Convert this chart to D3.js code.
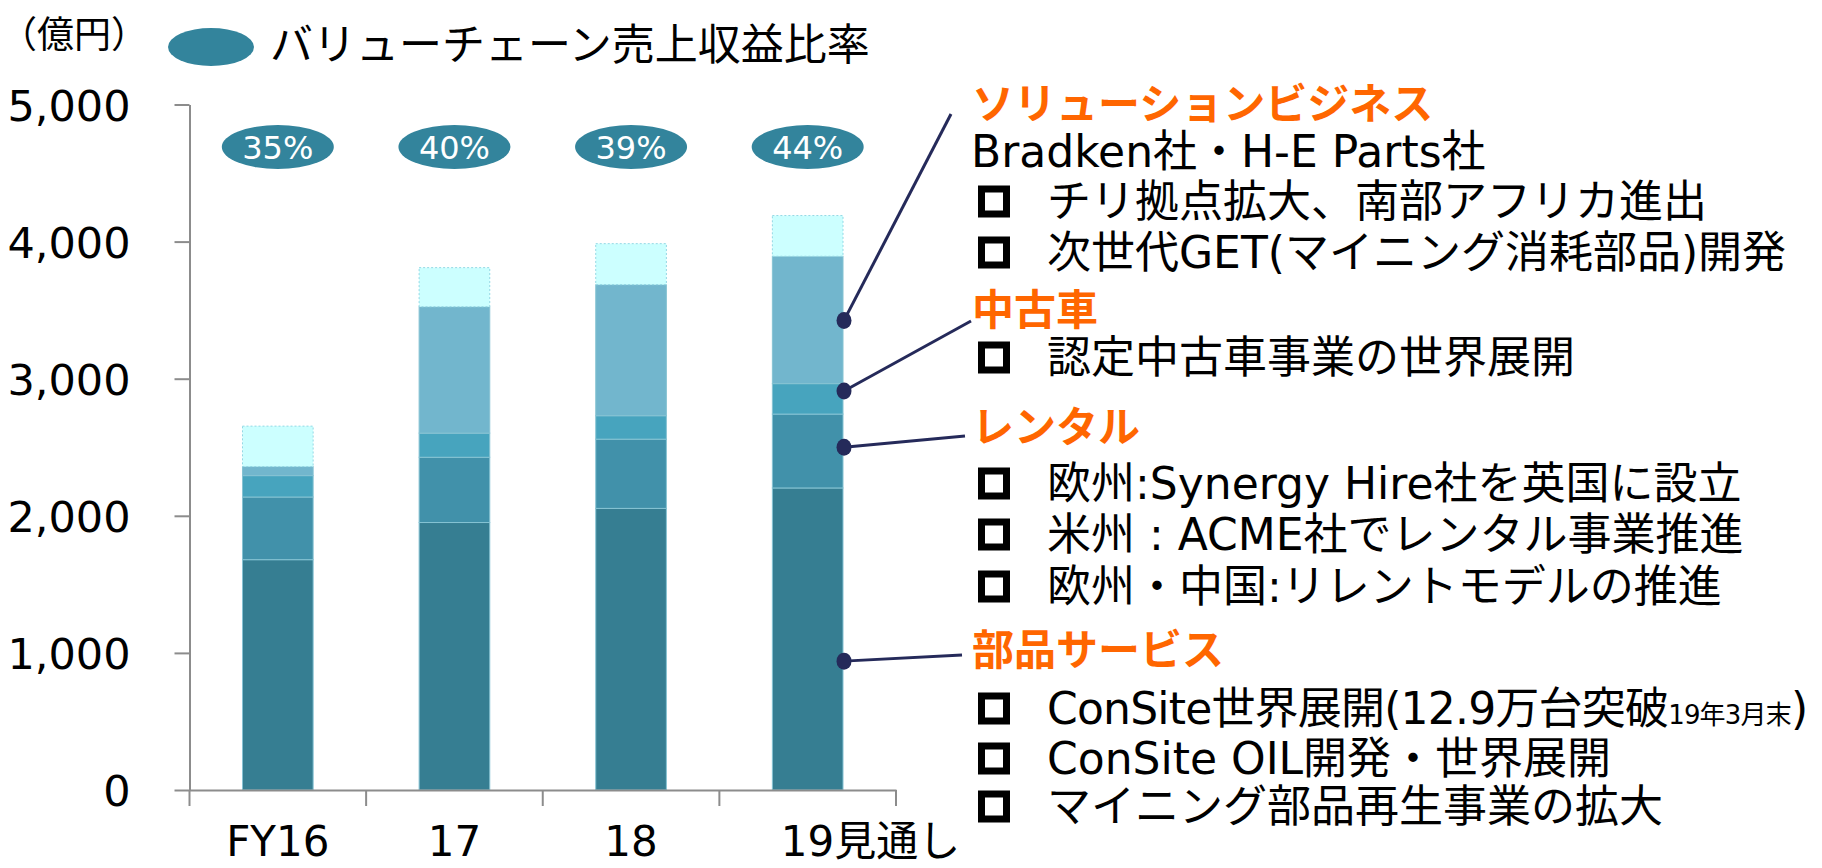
<!DOCTYPE html>
<html><head><meta charset="utf-8">
<script src="https://cdn.jsdelivr.net/npm/d3@7"></script>
<style>
body{margin:0;background:#fff;}
svg{display:block;}
</style></head><body>
<svg id="chart" width="1822" height="868"></svg>
<script>
// ---------------- data ----------------
const categories   = ["FY16", "17", "18", "19見通し"];
const partsService = [1680, 1951, 2054, 2203];   // 部品サービス
const rental       = [457, 476, 505, 539];       // レンタル
const usedCar      = [156, 176, 171, 222];       // 中古車
const solution     = [66, 922, 956, 929];        // ソリューションビジネス
const otherSales   = [295, 285, 299, 297];       // その他
const vcRatio      = [35, 40, 39, 44];           // バリューチェーン売上収益比率 (%)
const yTicks       = [0, 1000, 2000, 3000, 4000, 5000];
const seriesKeys   = ["parts", "rental", "used", "solution", "other"];
const seriesColors = ["#367E92", "#4191AA", "#47A4BE", "#72B6CD", "#CCFFFF"];
const unitLabel    = "（億円）";
const legendLabel  = "バリューチェーン売上収益比率";
// callout anchor values on the 19見通し bar
const calloutValues = [3425, 2910, 2500, 940];
const headings = ["ソリューションビジネス", "中古車", "レンタル", "部品サービス"];
const solutionNote  = "Bradken社・H-E Parts社";
const solutionItems = ["チリ拠点拡大、南部アフリカ進出", "次世代GET(マイニング消耗部品)開発"];
const usedCarItems  = ["認定中古車事業の世界展開"];
const rentalItems   = ["欧州:Synergy Hire社を英国に設立", "米州 : ACME社でレンタル事業推進", "欧州・中国:リレントモデルの推進"];
const partsItems    = ["ConSite世界展開(12.9万台突破", "ConSite OIL開発・世界展開", "マイニング部品再生事業の拡大"];
const partsSubNote  = "19年3月末";

// ---------------- setup ----------------
const svg = d3.select("#chart");
const FONT_LAT = "'DejaVu Sans', 'Noto Sans CJK JP', sans-serif";
const FONT_JP = "'Noto Sans CJK JP', sans-serif";
const axisColor = "#8C8C8C";

const x = d3.scaleBand().domain(categories).range([189.5, 896]).padding(0);
const y = d3.scaleLinear().domain([0, 5000]).range([790, 104.5]);
const bw = x.bandwidth();
const barW = bw * 0.4;

const table = categories.map((c, i) => ({
  cat: c, parts: partsService[i], rental: rental[i], used: usedCar[i],
  solution: solution[i], other: otherSales[i]
}));
const stacked = d3.stack().keys(seriesKeys)(table);

// bars
const gBars = svg.append("g");
stacked.forEach((layer, li) => {
  gBars.selectAll(null).data(layer).enter().append("rect")
    .attr("x", d => x(d.data.cat) + (bw - barW) / 2)
    .attr("width", barW)
    .attr("y", d => y(d[1]))
    .attr("height", d => y(d[0]) - y(d[1]))
    .attr("fill", seriesColors[li])
    .attr("stroke", li === 4 ? "#93D8E4" : "#86C3D3")
    .attr("stroke-width", 1)
    .attr("stroke-dasharray", li === 4 ? "2,2" : null);
});

// y axis
const yAxis = d3.axisLeft(y).tickValues(yTicks).tickFormat(d3.format(","))
  .tickSize(15).tickSizeOuter(0).tickPadding(44);
const gy = svg.append("g").attr("transform", "translate(189.5,0)").call(yAxis);
gy.select(".domain").attr("stroke", axisColor).attr("stroke-width", 2);
gy.selectAll(".tick line").attr("stroke", axisColor).attr("stroke-width", 2);
gy.selectAll(".tick text").attr("font-family", FONT_LAT).attr("font-size", 43)
  .attr("fill", "#000").attr("dy", "0.365em");

// x axis (labels)
const xAxis = d3.axisBottom(x).tickSize(0).tickSizeOuter(0);
const gx = svg.append("g").attr("transform", "translate(0,790)").call(xAxis);
gx.select(".domain").attr("stroke", axisColor).attr("stroke-width", 2);
gx.selectAll(".tick text").attr("font-family", FONT_LAT).attr("font-size", 42)
  .attr("fill", "#000").attr("y", 66).attr("dy", 0);
gx.selectAll(".tick text").filter(d => d === categories[categories.length - 1])
  .attr("text-anchor", "start").attr("x", -27);
// boundary ticks
const bounds = categories.map(c => x(c)).concat([x(categories[categories.length - 1]) + bw]);
gx.selectAll(".btick").data(bounds).enter().append("line")
  .attr("x1", d => d).attr("x2", d => d).attr("y1", 0).attr("y2", 16)
  .attr("stroke", axisColor).attr("stroke-width", 2);

// percentage ellipses
const gPct = svg.append("g");
gPct.selectAll("ellipse").data(vcRatio).enter().append("ellipse")
  .attr("cx", (d, i) => x(categories[i]) + bw / 2).attr("cy", 147)
  .attr("rx", 56).attr("ry", 22).attr("fill", "#33849C");
gPct.selectAll("text").data(vcRatio).enter().append("text")
  .attr("x", (d, i) => x(categories[i]) + bw / 2).attr("y", 147)
  .attr("dy", "0.36em").attr("text-anchor", "middle")
  .attr("font-family", FONT_LAT).attr("font-size", 32).attr("fill", "#fff")
  .text(d => d + "%");

// unit and legend
svg.append("text").attr("x", 0).attr("y", 35).attr("dy", "0.36em")
  .attr("font-family", FONT_JP).attr("font-size", 37).attr("fill", "#000").text(unitLabel);
svg.append("ellipse").attr("cx", 211).attr("cy", 47).attr("rx", 43).attr("ry", 19).attr("fill", "#33849C");
svg.append("text").attr("x", 270).attr("y", 45).attr("dy", "0.36em")
  .attr("font-family", FONT_JP).attr("font-size", 43).attr("fill", "#000").text(legendLabel);

// callouts
const lastCat = categories[categories.length - 1];
const dotX = x(lastCat) + (bw + barW) / 2 + 1;
const calloutEnds = [[951, 114], [971, 321], [965, 436], [962, 655]];
const gCall = svg.append("g");
calloutValues.forEach((v, i) => {
  gCall.append("line").attr("x1", dotX).attr("y1", y(v))
    .attr("x2", calloutEnds[i][0]).attr("y2", calloutEnds[i][1])
    .attr("stroke", "#252A5A").attr("stroke-width", 3);
  gCall.append("ellipse").attr("cx", dotX).attr("cy", y(v))
    .attr("rx", 7.5).attr("ry", 8.5).attr("fill", "#252A5A");
});

// text block
const gTxt = svg.append("g");
function heading(t, cy) {
  gTxt.append("text").attr("x", 972).attr("y", cy).attr("dy", "0.36em")
    .attr("font-family", FONT_JP).attr("font-weight", "bold").attr("font-size", 42)
    .attr("fill", "#FF6600").text(t);
}
function plain(t, cy) {
  return gTxt.append("text").attr("x", 971).attr("y", cy).attr("dy", "0.36em")
    .attr("font-family", FONT_LAT).attr("font-size", 44).attr("fill", "#000").text(t);
}
function bullet(t, cy) {
  gTxt.append("rect").attr("x", 981.5).attr("y", cy - 12).attr("width", 25).attr("height", 25)
    .attr("fill", "#fff").attr("stroke", "#000").attr("stroke-width", 7);
  return gTxt.append("text").attr("x", 1047).attr("y", cy).attr("dy", "0.36em")
    .attr("font-family", FONT_LAT).attr("font-size", 44).attr("fill", "#000").text(t);
}
heading(headings[0], 104);
plain(solutionNote, 151);
bullet(solutionItems[0], 201);
bullet(solutionItems[1], 252);
heading(headings[1], 310);
bullet(usedCarItems[0], 357);
heading(headings[2], 427);
bullet(rentalItems[0], 483);
bullet(rentalItems[1], 534);
bullet(rentalItems[2], 586);
heading(headings[3], 650);
const p0 = bullet(partsItems[0], 708).attr("letter-spacing", -0.8);
p0.append("tspan").attr("font-size", 26).text(partsSubNote);
p0.append("tspan").text(")");
bullet(partsItems[1], 758);
bullet(partsItems[2], 806);
</script>
</body></html>
